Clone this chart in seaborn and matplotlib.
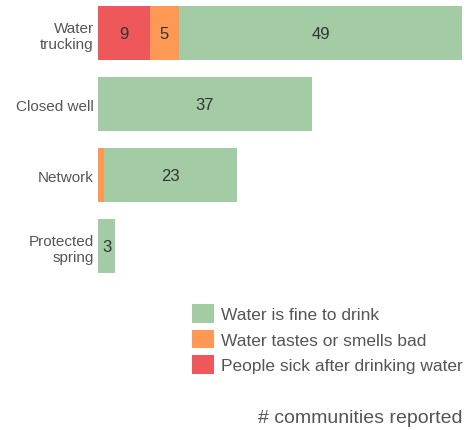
import matplotlib
matplotlib.use("Agg")
import matplotlib.pyplot as plt
from matplotlib.patches import Patch
import seaborn as sns
import pandas as pd
import numpy as np

categories = ["Water\ntrucking", "Closed well", "Network", "Protected\nspring"]
sick = [9, 0, 0, 0]
bad_taste = [5, 0, 1, 0]
fine = [49, 37, 23, 3]
series_names = ["Water is fine to drink", "Water tastes or smells bad", "People sick after drinking water"]
xlabel = "# communities reported"

c_fine = "#a4cca4"
c_bad = "#fe9955"
c_sick = "#ee585b"

sns.set_theme(style="white")
plt.rcParams["font.family"] = ["Liberation Sans", "DejaVu Sans"]

df = pd.DataFrame({"cat": categories, "sick": sick, "bad": bad_taste, "fine": fine})
df["cum_bad"] = df["sick"] + df["bad"]
df["cum_fine"] = df["cum_bad"] + df["fine"]

fig = plt.figure(figsize=(4.66, 4.31), dpi=100)
ax = fig.add_axes([98 / 466, 1 - 282 / 431, 364 / 466, 282 / 431])

w = 0.76
sns.barplot(data=df, y="cat", x="cum_fine", color=c_fine, width=w, ax=ax, orient="h",
            saturation=1, linewidth=0, edgecolor="none")
sns.barplot(data=df, y="cat", x="cum_bad", color=c_bad, width=w, ax=ax, orient="h",
            saturation=1, linewidth=0, edgecolor="none")
sns.barplot(data=df, y="cat", x="sick", color=c_sick, width=w, ax=ax, orient="h",
            saturation=1, linewidth=0, edgecolor="none")

ax.set_xlim(0, 63)
ax.set_ylim(3.49, -0.479)

for i in range(len(categories)):
    segs = [(0, sick[i]), (sick[i], bad_taste[i]), (sick[i] + bad_taste[i], fine[i])]
    for start, val in segs:
        if val >= 2:
            ax.text(start + val / 2, i, str(val), ha="center", va="center",
                    fontsize=12, color="#333333")

for s in ax.spines.values():
    s.set_visible(False)
ax.set_xticks([])
ax.set_xlabel("")
ax.set_ylabel("")
ax.tick_params(axis="y", length=0, pad=3, labelsize=11, labelcolor="#555555")

handles = [Patch(facecolor=c_fine, edgecolor="none"),
           Patch(facecolor=c_bad, edgecolor="none"),
           Patch(facecolor=c_sick, edgecolor="none")]
leg = fig.legend(handles, series_names, loc="upper left",
                 bbox_to_anchor=(192 / 466, 1 - 305 / 431), frameon=False,
                 fontsize=12.5, handlelength=1.27, handleheight=1.27,
                 labelspacing=0.4, handletextpad=0.4, borderpad=0, borderaxespad=0)
for t in leg.get_texts():
    t.set_color("#555555")

fig.text(463 / 466, 1 - 419 / 431, xlabel, ha="right", va="center",
         fontsize=14, color="#555555")

fig.savefig("out.png", dpi=100)
